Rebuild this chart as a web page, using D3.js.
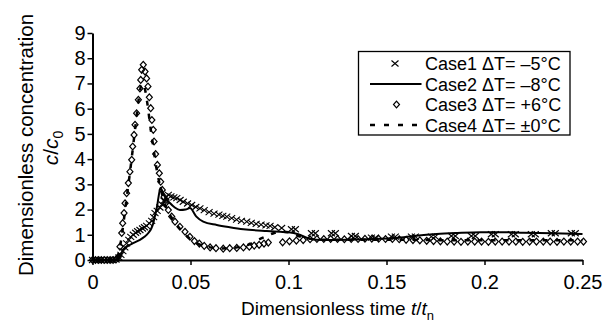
<!DOCTYPE html>
<html>
<head>
<meta charset="utf-8">
<script src="https://cdn.jsdelivr.net/npm/d3@7"></script>
<style>
body { margin: 0; background: #fff; }
svg { display: block; font-family: "Liberation Sans", Arial, sans-serif; }
</style>
</head>
<body>
<svg id="chart"></svg>
<script>
const width = 608, height = 322;
const margin = { top: 33, right: 25.5, bottom: 62, left: 92.5 };
const plotWidth = width - margin.left - margin.right;
const plotHeight = height - margin.top - margin.bottom;

// Axis ticks
const xTicks = [0, 0.05, 0.1, 0.15, 0.2, 0.25];
const yTicks = [0, 1, 2, 3, 4, 5, 6, 7, 8, 9];

// Case1 dT = -5 (crosses), [t/tn, c/c0]
const case1 = [
  [0, 0], [0.002, 0], [0.004, 0], [0.006, 0], [0.008, 0], [0.01, 0], [0.012, 0.02],
  [0.0135, 0.1], [0.0145, 0.2], [0.0155, 0.35], [0.0165, 0.5], [0.0174, 0.66], [0.0185, 0.8],
  [0.0195, 0.92], [0.0208, 1.0], [0.022, 1.08], [0.023, 1.14], [0.0242, 1.19], [0.0255, 1.25],
  [0.0265, 1.3], [0.0276, 1.35], [0.029, 1.45], [0.0302, 1.55], [0.0312, 1.7], [0.0319, 1.86],
  [0.033, 1.95], [0.0344, 2.08], [0.0355, 2.2], [0.0365, 2.35], [0.0375, 2.48], [0.0387, 2.58],
  [0.04, 2.52], [0.0415, 2.48], [0.043, 2.45], [0.0447, 2.38], [0.0463, 2.31], [0.0485, 2.24],
  [0.0506, 2.18], [0.0527, 2.1], [0.0548, 2.05], [0.057, 1.98], [0.0595, 1.9], [0.062, 1.84],
  [0.0645, 1.8], [0.0665, 1.75], [0.0685, 1.72], [0.071, 1.66], [0.0735, 1.6], [0.076, 1.55],
  [0.0787, 1.52], [0.081, 1.47], [0.0835, 1.43], [0.086, 1.4], [0.0885, 1.37], [0.0906, 1.35],
  [0.093, 1.3], [0.0965, 1.27], [0.1015, 1.22], [0.1035, 1.22],
  [0.1117, 1.06], [0.1137, 1.06], [0.1219, 1.06], [0.1239, 1.06], [0.1321, 0.95], [0.1341, 0.95],
  [0.1423, 0.89], [0.1443, 0.89], [0.1525, 0.93], [0.1545, 0.93], [0.1627, 0.93], [0.1647, 0.93],
  [0.1729, 0.93], [0.1749, 0.93], [0.1831, 0.95], [0.1851, 0.95], [0.1933, 0.95], [0.1953, 0.95],
  [0.2035, 1.02], [0.2055, 1.02], [0.2137, 1.02], [0.2157, 1.02], [0.2239, 1.02], [0.2259, 1.02],
  [0.2341, 1.06], [0.2361, 1.06], [0.2443, 1.06], [0.2463, 1.06]
];

// Case2 dT = -8 (solid line)
const case2 = [
  [0, 0], [0.012, 0], [0.0135, 0.1], [0.0157, 0.4], [0.018, 0.55], [0.021, 0.68], [0.0242, 0.8],
  [0.0265, 0.92], [0.0285, 1.07], [0.03, 1.25], [0.031, 1.46], [0.032, 1.8], [0.033, 2.15],
  [0.0336, 2.45], [0.0347, 2.86], [0.0358, 2.7], [0.037, 2.5], [0.0395, 2.26], [0.042, 2.08],
  [0.0446, 1.98], [0.0475, 2.0], [0.0497, 2.06], [0.053, 1.72], [0.0565, 1.52], [0.0634, 1.39],
  [0.07, 1.3], [0.077, 1.22], [0.0889, 1.15], [0.0957, 1.12], [0.1, 1.1], [0.105, 1.02],
  [0.11, 0.86], [0.114, 0.8], [0.12, 0.79], [0.13, 0.8], [0.14, 0.82], [0.155, 0.87],
  [0.165, 0.96], [0.1756, 1.03], [0.186, 1.07], [0.198, 1.1], [0.21, 1.1], [0.22, 1.08],
  [0.235, 1.06], [0.25, 1.03]
];

// Case3 dT = +6 (diamonds)
const case3 = [
  [0, 0], [0.0015, 0], [0.003, 0], [0.0045, 0], [0.006, 0], [0.0075, 0], [0.009, 0], [0.0105, 0],
  [0.012, 0.02], [0.0132, 0.13], [0.014, 0.53], [0.0149, 1.07], [0.0154, 1.46], [0.0161, 1.86],
  [0.0166, 2.25], [0.0174, 2.65], [0.0183, 3.05], [0.0191, 3.5], [0.02, 3.97], [0.0205, 4.5],
  [0.0212, 4.96], [0.0217, 5.36], [0.0225, 5.82], [0.0234, 6.35], [0.0242, 6.8], [0.0246, 7.14],
  [0.0251, 7.54], [0.0259, 7.74], [0.0268, 7.47], [0.0276, 7.2], [0.0283, 6.88], [0.029, 6.45],
  [0.0297, 6.02], [0.0303, 5.55], [0.031, 5.16], [0.0314, 4.7], [0.0322, 4.2], [0.0331, 3.77],
  [0.0341, 3.44], [0.0348, 3.1], [0.0356, 2.78], [0.0365, 2.5], [0.0373, 2.25], [0.0387, 1.98],
  [0.0404, 1.72], [0.0421, 1.52], [0.0446, 1.32], [0.0472, 1.12], [0.0497, 0.92], [0.052, 0.75],
  [0.0545, 0.65], [0.057, 0.56], [0.06, 0.5], [0.063, 0.47], [0.0667, 0.45], [0.07, 0.47],
  [0.0736, 0.48], [0.077, 0.5], [0.08, 0.53], [0.0825, 0.57], [0.085, 0.6], [0.0875, 0.65],
  [0.0897, 0.69], [0.097, 0.7], [0.1005, 0.74], [0.104, 0.77], [0.1075, 0.79], [0.111, 0.82],
  [0.1145, 0.83], [0.118, 0.83], [0.1215, 0.83], [0.125, 0.83], [0.1285, 0.82], [0.132, 0.83],
  [0.1355, 0.83], [0.139, 0.84], [0.1425, 0.84], [0.146, 0.84], [0.1495, 0.83], [0.153, 0.83],
  [0.1565, 0.82], [0.16, 0.8], [0.1635, 0.79], [0.167, 0.78], [0.1705, 0.76], [0.174, 0.75],
  [0.1775, 0.74], [0.181, 0.73], [0.1845, 0.73], [0.188, 0.72], [0.1915, 0.73], [0.195, 0.73],
  [0.1985, 0.73], [0.202, 0.72], [0.2055, 0.73], [0.209, 0.73], [0.2125, 0.73], [0.216, 0.73],
  [0.2195, 0.72], [0.223, 0.73], [0.2265, 0.73], [0.23, 0.73], [0.2335, 0.73], [0.237, 0.72],
  [0.2405, 0.73], [0.244, 0.73], [0.2475, 0.73], [0.2505, 0.73]
];

// Case4 dT = 0 (dashed line)
const case4 = [
  [0, 0], [0.012, 0], [0.0135, 0.3], [0.015, 1.0], [0.017, 2.2], [0.019, 3.4], [0.021, 4.7],
  [0.0225, 5.7], [0.024, 6.6], [0.0252, 7.0], [0.0265, 6.85], [0.028, 6.2], [0.0295, 5.3],
  [0.031, 4.5], [0.0325, 3.7], [0.034, 3.1], [0.0355, 2.6], [0.037, 2.2], [0.039, 1.85],
  [0.042, 1.5], [0.045, 1.2], [0.048, 0.95], [0.052, 0.72], [0.056, 0.57], [0.06, 0.5],
  [0.065, 0.46], [0.07, 0.47], [0.075, 0.52], [0.08, 0.62], [0.084, 0.78], [0.088, 0.92],
  [0.092, 1.05], [0.096, 1.12], [0.1, 1.1], [0.105, 0.95], [0.11, 0.85], [0.12, 0.8],
  [0.14, 0.8], [0.16, 0.8], [0.18, 0.78], [0.2, 0.78], [0.22, 0.78], [0.25, 0.78]
];

const legendLabels = ["Case1 \u0394T= \u20135\u00B0C", "Case2 \u0394T= \u20138\u00B0C",
                      "Case3 \u0394T= +6\u00B0C", "Case4 \u0394T= \u00B10\u00B0C"];

const svg = d3.select("#chart")
  .attr("width", width)
  .attr("height", height)
  .attr("viewBox", [0, 0, width, height]);

const g = svg.append("g")
  .attr("transform", `translate(${margin.left},${margin.top})`);

const xScale = d3.scaleLinear().domain([0, 0.25]).range([0, plotWidth]);
const yScale = d3.scaleLinear().domain([0, 9]).range([plotHeight, 0]);

const crossPath = "M-3.5,-3L3.5,3M-3.5,3L3.5,-3";
const diamondPath = "M0,-3.4L3,0L0,3.4L-3,0Z";

// axes
const xAxis = g.append("g")
  .attr("transform", `translate(0,${plotHeight})`)
  .call(d3.axisBottom(xScale).tickValues(xTicks).tickSize(5).tickSizeOuter(0)
    .tickPadding(10).tickFormat(d => String(d)));

const yAxis = g.append("g")
  .call(d3.axisLeft(yScale).tickValues(yTicks).tickSize(5).tickSizeOuter(0)
    .tickPadding(2));

[xAxis, yAxis].forEach(a => {
  a.attr("font-family", null).attr("font-size", null);
  a.select(".domain").attr("stroke", "#000").attr("stroke-width", 2);
  a.selectAll(".tick line").attr("stroke", "#000").attr("stroke-width", 1.5);
  a.selectAll(".tick text").attr("fill", "#000").style("font-size", "20px");
});

// lines
const line = d3.line()
  .x(d => xScale(d[0]))
  .y(d => yScale(d[1]))
  .curve(d3.curveMonotoneX);

g.append("path")
  .attr("d", line(case2))
  .attr("fill", "none")
  .attr("stroke", "#000")
  .attr("stroke-width", 2);

g.append("path")
  .attr("d", line(case4))
  .attr("fill", "none")
  .attr("stroke", "#000")
  .attr("stroke-width", 2.5)
  .attr("stroke-dasharray", "5,8");

// markers
g.append("g").selectAll("path")
  .data(case3)
  .enter()
  .append("path")
  .attr("transform", d => `translate(${xScale(d[0])},${yScale(d[1])})`)
  .attr("d", diamondPath)
  .attr("fill", "none")
  .attr("stroke", "#000")
  .attr("stroke-width", 1.2);

g.append("g").selectAll("path")
  .data(case1)
  .enter()
  .append("path")
  .attr("transform", d => `translate(${xScale(d[0])},${yScale(d[1])})`)
  .attr("d", crossPath)
  .attr("fill", "none")
  .attr("stroke", "#000")
  .attr("stroke-width", 1.1);

// axis titles
svg.append("text")
  .attr("transform", "translate(33,145) rotate(-90)")
  .attr("text-anchor", "middle")
  .style("font-size", "20.5px")
  .text("Dimensionless concentration");

const yTitle2 = svg.append("text")
  .attr("transform", "translate(58,148) rotate(-90)")
  .attr("text-anchor", "middle")
  .style("font-size", "21px");
yTitle2.append("tspan").style("font-style", "italic").text("c");
yTitle2.append("tspan").text("/");
yTitle2.append("tspan").style("font-style", "italic").text("c");
yTitle2.append("tspan").attr("dy", 5).style("font-size", "14px").text("0");

const xTitle = svg.append("text")
  .attr("x", margin.left + plotWidth / 2)
  .attr("y", 315)
  .attr("text-anchor", "middle")
  .style("font-size", "19px");
xTitle.append("tspan").text("Dimensionless time ");
xTitle.append("tspan").style("font-style", "italic").text("t");
xTitle.append("tspan").text("/");
xTitle.append("tspan").style("font-style", "italic").text("t");
xTitle.append("tspan").attr("dy", 5).style("font-size", "13px").text("n");

// legend
const legend = svg.append("g");
legend.append("rect")
  .attr("x", 358.5).attr("y", 51.5)
  .attr("width", 211.5).attr("height", 83.5)
  .attr("fill", "#fff")
  .attr("stroke", "#000")
  .attr("stroke-width", 1.3);

const rowY = [63.5, 84, 104.5, 125];
legendLabels.forEach((label, i) => {
  legend.append("text")
    .attr("x", 425)
    .attr("y", rowY[i] + 6.6)
    .style("font-size", "18px")
    .text(label);
});
legend.append("path")
  .attr("transform", `translate(395,${rowY[0]})`)
  .attr("d", crossPath)
  .attr("fill", "none").attr("stroke", "#000").attr("stroke-width", 1.1);
legend.append("line")
  .attr("x1", 370).attr("x2", 421.5).attr("y1", rowY[1]).attr("y2", rowY[1])
  .attr("stroke", "#000").attr("stroke-width", 2);
legend.append("path")
  .attr("transform", `translate(396.5,${rowY[2]})`)
  .attr("d", diamondPath)
  .attr("fill", "none").attr("stroke", "#000").attr("stroke-width", 1.2);
legend.append("line")
  .attr("x1", 370).attr("x2", 421.5).attr("y1", rowY[3]).attr("y2", rowY[3])
  .attr("stroke", "#000").attr("stroke-width", 2.5)
  .attr("stroke-dasharray", "5,9");
</script>
</body>
</html>
